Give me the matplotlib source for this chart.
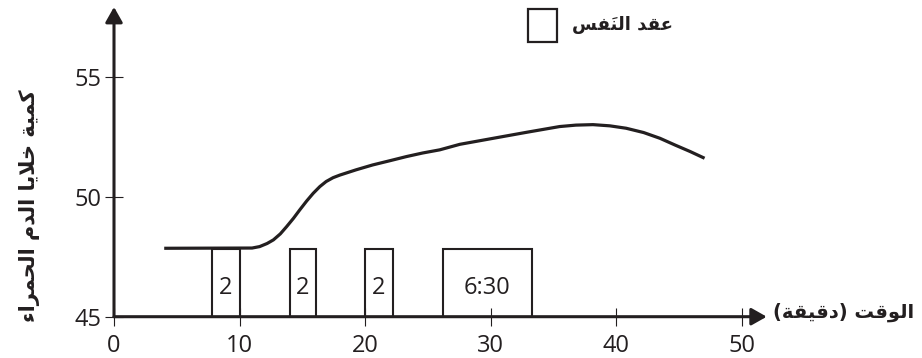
import matplotlib
matplotlib.use("Agg")
import matplotlib.pyplot as plt
from matplotlib.patches import Rectangle
import numpy as np

# curve: time (min) vs red blood cell count
time_pts = [4.0, 11.0, 11.6, 12.2, 12.7, 13.25, 13.75, 14.3, 14.8, 15.35, 15.87,
            16.4, 16.9, 17.45, 18.0, 19.3, 20.6, 22.0, 23.3, 24.6, 25.95, 27.55,
            30.2, 32.86, 35.5, 36.8, 38.16, 39.5, 40.8, 42.2, 43.5, 44.7, 45.9, 47.05]
cells = [47.85, 47.86, 47.92, 48.05, 48.2, 48.45, 48.75, 49.1, 49.45, 49.82, 50.14,
         50.42, 50.63, 50.79, 50.9, 51.12, 51.32, 51.5, 51.67, 51.82, 51.95, 52.18,
         52.43, 52.68, 52.92, 52.98, 53.0, 52.95, 52.85, 52.67, 52.43, 52.15, 51.88, 51.6]

# breath-hold periods
hold_start = [7.8, 14.0, 20.0, 26.2]
hold_end = [10.0, 16.1, 22.2, 33.3]
hold_labels = ["2", "2", "2", "6:30"]
hold_top = 47.8

xticks = [0, 10, 20, 30, 40, 50]
yticks = [45, 50, 55]

ylabel = "كمية خلايا الدم الحمراء"
xlabel = "الوقت (دقيقة)"
legend_label = "عقد النفَس"

INK = "#231f20"

# matplotlib has no arabic shaping, so pick presentation forms by hand
FORMS = {
    'ا': (0xFE8D, 0xFE8E, None, None),
    'ة': (0xFE93, 0xFE94, None, None),
    'ت': (0xFE95, 0xFE96, 0xFE97, 0xFE98),
    'ح': (0xFEA1, 0xFEA2, 0xFEA3, 0xFEA4),
    'خ': (0xFEA5, 0xFEA6, 0xFEA7, 0xFEA8),
    'د': (0xFEA9, 0xFEAA, None, None),
    'ر': (0xFEAD, 0xFEAE, None, None),
    'س': (0xFEB1, 0xFEB2, 0xFEB3, 0xFEB4),
    'ع': (0xFEC9, 0xFECA, 0xFECB, 0xFECC),
    'ف': (0xFED1, 0xFED2, 0xFED3, 0xFED4),
    'ق': (0xFED5, 0xFED6, 0xFED7, 0xFED8),
    'ك': (0xFED9, 0xFEDA, 0xFEDB, 0xFEDC),
    'ل': (0xFEDD, 0xFEDE, 0xFEDF, 0xFEE0),
    'م': (0xFEE1, 0xFEE2, 0xFEE3, 0xFEE4),
    'ن': (0xFEE5, 0xFEE6, 0xFEE7, 0xFEE8),
    'و': (0xFEED, 0xFEEE, None, None),
    'ي': (0xFEF1, 0xFEF2, 0xFEF3, 0xFEF4),
    'ء': (0xFE80, None, None, None),
    'لا': (0xFEFB, 0xFEFC, None, None),
}
MARKS = '\u064e'
MIRROR = {'(': ')', ')': '('}


def shape(text):
    units = []
    i = 0
    while i < len(text):
        c = text[i]
        if c in MARKS and units:
            units[-1][1] += c
        elif c == 'ل' and i + 1 < len(text) and text[i + 1] == 'ا':
            units.append(['لا', ''])
            i += 1
        else:
            units.append([c, ''])
        i += 1

    def joins_next(k):
        return k in FORMS and FORMS[k][2] is not None

    def joins_prev(k):
        return k in FORMS and FORMS[k][1] is not None

    out = []
    for n, (k, marks) in enumerate(units):
        if k not in FORMS:
            out.append(MIRROR.get(k, k) + marks)
            continue
        p = n > 0 and joins_next(units[n - 1][0]) and joins_prev(k)
        q = n + 1 < len(units) and joins_next(k) and joins_prev(units[n + 1][0])
        iso, fin, ini, med = FORMS[k]
        if p and q:
            g = med
        elif p:
            g = fin
        elif q:
            g = ini
        else:
            g = iso
        out.append(chr(g) + marks)
    return ''.join(reversed(out))


plt.rcParams['font.family'] = ['Open Sans', 'DejaVu Sans']

W, H = 922, 358
fig = plt.figure(figsize=(W / 100, H / 100), dpi=100)
ax = fig.add_axes([114 / W, (H - 316.7) / H, (766.7 - 114) / W, (316.7 - 7) / H])
ax.set_xlim(0, 52)
ax.set_ylim(45, 57.9)
for s in ax.spines.values():
    s.set_visible(False)

arrow = dict(arrowstyle='-|>,head_length=0.46,head_width=0.26', mutation_scale=20,
             lw=2.2, color=INK, shrinkA=0, shrinkB=0)
ax.annotate('', xy=(52, 45), xytext=(0, 45), arrowprops=arrow, annotation_clip=False)
ax.annotate('', xy=(0, 57.9), xytext=(0, 45), arrowprops=arrow, annotation_clip=False)

ax.set_xticks(xticks)
ax.set_yticks(yticks)
ax.tick_params(direction='inout', length=12.5, width=0.8, color=INK,
               labelsize=17, labelcolor=INK)
ax.tick_params(axis='x', pad=6)
ax.tick_params(axis='y', pad=3)

widths = np.array(hold_end) - np.array(hold_start)
ax.bar(hold_start, hold_top - 45, width=widths, bottom=45, align='edge',
       fill=False, edgecolor=INK, linewidth=1.5, zorder=3)
for x0, w, lab in zip(hold_start, widths, hold_labels):
    ax.text(x0 + w / 2, 46.2, lab, ha='center', va='center', fontsize=17, color=INK)

ax.plot(time_pts, cells, color=INK, lw=2.3, solid_capstyle='butt',
        solid_joinstyle='round', zorder=4)

fig.text(29 / W, 1 - 206 / H, shape(ylabel), rotation=90, ha='center', va='center',
         family='DejaVu Sans', fontweight='bold', fontsize=15, color=INK)
fig.text(773 / W, 1 - 312 / H, shape(xlabel), ha='left', va='center',
         family='DejaVu Sans', fontweight='bold', fontsize=14, color=INK)
fig.text(572 / W, 1 - 25 / H, shape(legend_label), ha='left', va='center',
         family='DejaVu Sans', fontweight='bold', fontsize=13, color=INK)
fig.patches.append(Rectangle((528 / W, 1 - 42 / H), 29 / W, 33 / H,
                             transform=fig.transFigure, fill=False,
                             edgecolor=INK, lw=1.6))

fig.savefig("out.png", dpi=100)
